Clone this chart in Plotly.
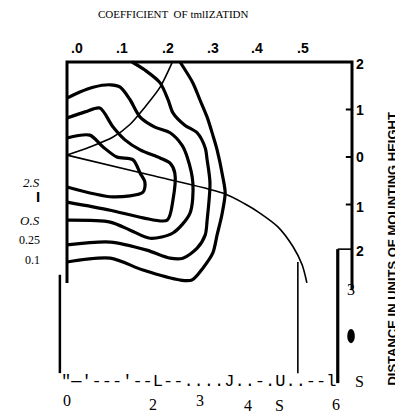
import plotly.graph_objects as go

# ---------------- data (units of mounting height; x along top, y along right axis) -------------
# contour curves (isolux-like)
c1_x = [0, 0.48, 0.76, 1.05, 1.39, 1.54, 1.64, 1.60, 0.97, 0]
c1_y = [0.40, 0.46, 0.21, 0.0, -0.06, -0.34, -0.53, -0.74, -0.84, -0.63]

c2_x = [0, 0.38, 0.69, 0.97, 1.22, 1.54, 1.96, 2.17, 2.27, 2.23, 2.11, 1.60, 0.91, 0]
c2_y = [0.82, 0.95, 1.03, 0.63, 0.36, 0.15, -0.02, -0.13, -0.34, -0.91, -1.33, -1.28, -1.12, -0.95]

c3_x = [0, 0.27, 0.55, 0.91, 1.12, 1.33, 1.54, 1.85, 2.17, 2.42, 2.53, 2.65, 2.59, 2.23, 1.75, 1.33, 0.91, 0]
c3_y = [1.24, 1.37, 1.47, 1.52, 1.47, 1.20, 0.84, 0.63, 0.51, 0.25, 0.0, -0.55, -1.18, -1.60, -1.71, -1.54, -1.37, -1.33]

c4_x = [1.37, 1.64, 1.96, 2.13, 2.23, 2.48, 2.74, 2.91, 2.95, 3.01, 2.95, 2.91, 2.74, 2.44, 2.17, 1.68, 0.91, 0]
c4_y = [2.0, 1.83, 1.56, 1.20, 0.93, 0.67, 0.51, 0.19, -0.06, -0.55, -1.33, -1.64, -1.92, -2.13, -2.13, -1.96, -1.79, -1.85]

c5_x = [2.38, 2.65, 2.80, 2.95, 3.07, 3.16, 3.28, 3.33, 3.26, 3.16, 3.07, 2.86, 2.63, 2.38, 1.60, 0.91, 0]
c5_y = [2.0, 1.56, 1.20, 0.84, 0.46, 0.15, -0.42, -0.76, -1.22, -1.64, -2.02, -2.34, -2.59, -2.59, -2.38, -2.13, -2.21]

# thin arc and coefficient-of-utilization curve
arc_x = [0, 0.48, 0.97, 1.33, 1.64, 1.96, 2.21]
arc_y = [0.04, 0.21, 0.42, 0.69, 1.05, 1.47, 1.98]

cu_x = [0, 1.75, 3.28, 3.75, 4.06, 4.44, 4.76, 4.95, 5.05]
cu_y = [0.04, -0.38, -0.76, -0.99, -1.18, -1.47, -1.89, -2.27, -2.65]

# frame
frame_x = [0, 0, 6, 6]
frame_y = [-2.65, 2.0, 2.0, -2.80]
right_ticks = [1, 0, -1]

# vertical lines below the chart
vline_left = [-0.15, -2.48, -4.55]     # x, y_top, y_bottom
vline_mid = [4.86, -2.21, -4.55]
vline_right = [5.70, -1.94, -4.76]

# tick labels
top_tick_pos = [0.21, 1.16, 2.13, 3.07, 4.0, 4.97]
top_tick_text = [".0", ".1", ".2", ".3", ".4", ".5"]
right_tick_pos = [1.95, 0.98, 0.0, -1.05, -1.97]
right_tick_text = ["2", "1", "0", "1", "2"]
left_label_pos = [-0.53, -0.84, -1.33, -1.75, -2.17]
left_label_text = ["<i>2.S</i>", "<b>I</b>", "<i>O.S</i>", "0.25", "0.1"]
bottom_num_x = [0.0, 1.81, 2.80, 3.81, 4.48, 5.66]
bottom_num_y = [-5.12, -5.20, -5.12, -5.24, -5.24, -5.20]
bottom_num_text = ["0", "2", "3", "4", "S", "6"]

PX = 47.5   # pixels per unit
OFF = 8     # page body margin of the html page

fig = go.Figure()

def line(x, y, w, shape="spline"):
    fig.add_trace(go.Scatter(x=x, y=y, mode="lines",
                             line=dict(color="black", width=w, shape=shape, smoothing=0.8),
                             hoverinfo="skip", showlegend=False))

for cx, cy in [(c1_x, c1_y), (c2_x, c2_y), (c3_x, c3_y), (c4_x, c4_y), (c5_x, c5_y)]:
    line(cx, cy, 3.2)
line(arc_x, arc_y, 1.6)
line(cu_x, cu_y, 1.6)
line(frame_x, frame_y, 3, "linear")
for t in right_ticks:
    line([5.87, 6.0], [t, t], 2, "linear")
line([vline_left[0]] * 2, vline_left[1:], 2.5, "linear")
line([vline_mid[0]] * 2, vline_mid[1:], 1.6, "linear")
line([vline_right[0]] * 2, vline_right[1:], 3.2, "linear")
line([vline_right[0], 6.0], [vline_right[1]] * 2, 1.6, "linear")

ann = []
for p, t in zip(top_tick_pos, top_tick_text):
    ann.append(dict(x=p, y=2.3, text="<b>" + t + "</b>", showarrow=False,
                    font=dict(family="Liberation Sans", size=14, color="black"),
                    xanchor="center", yanchor="middle"))
for p, t in zip(right_tick_pos, right_tick_text):
    ann.append(dict(x=6.05, y=p, text="<b>" + t + "</b>", showarrow=False,
                    font=dict(family="Liberation Sans", size=14, color="black"),
                    xanchor="left", yanchor="middle"))
for p, t in zip(left_label_pos, left_label_text):
    if t.startswith("<b>"):
        f = dict(family="Liberation Sans", size=15, color="black")
    else:
        f = dict(family="Liberation Serif", size=13 if "i>" in t else 12, color="black")
    ann.append(dict(x=-0.52, y=p, text=t, showarrow=False, font=f,
                    xanchor="right", yanchor="middle"))
for x, y, t in zip(bottom_num_x, bottom_num_y, bottom_num_text):
    ann.append(dict(x=x, y=y, text=t, showarrow=False,
                    font=dict(family="Liberation Serif", size=16, color="black"),
                    xanchor="center", yanchor="middle"))
ann.append(dict(x=-0.17, y=-4.73, text="\"\u2014'---'--L--....J..-.U..--l", showarrow=False,
                font=dict(family="Liberation Mono", size=17, color="black"),
                xanchor="left", yanchor="middle"))
ann.append(dict(x=6.02, y=-4.72, text="S", showarrow=False,
                font=dict(family="Liberation Serif", size=16, color="black"),
                xanchor="left", yanchor="middle"))
ann.append(dict(x=5.98, y=-2.78, text="3", showarrow=False,
                font=dict(family="Liberation Serif", size=16, color="black"),
                xanchor="center", yanchor="middle"))
ann.append(dict(x=0.63, y=3.02, text="COEFFICIENT  OF tmlIZATIDN", showarrow=False,
                borderpad=0,
                font=dict(family="Liberation Serif", size=11, color="black"),
                xanchor="left", yanchor="middle"))
ann.append(dict(x=6.85, y=-1.92, text="<b>DISTANCE IN UNITS OF MOUNTING HEIGHT</b>", showarrow=False,
                textangle=-90,
                font=dict(family="Liberation Sans", size=13, color="black"),
                xanchor="center", yanchor="middle"))

fig.update_layout(
    width=403, height=414, autosize=False,
    margin=dict(l=0, r=0, t=0, b=0),
    paper_bgcolor="white", plot_bgcolor="white",
    xaxis=dict(visible=False, range=[(OFF - 67) / PX, (OFF + 403 - 67) / PX], fixedrange=True),
    yaxis=dict(visible=False, range=[(157 - OFF - 414) / PX, (157 - OFF) / PX], fixedrange=True),
    annotations=ann,
    shapes=[dict(type="circle", xref="x", yref="y", x0=5.90, x1=6.06, y0=-3.92, y1=-3.62,
                 fillcolor="black", line=dict(color="black", width=0))],
)

fig.write_html("out.html")
